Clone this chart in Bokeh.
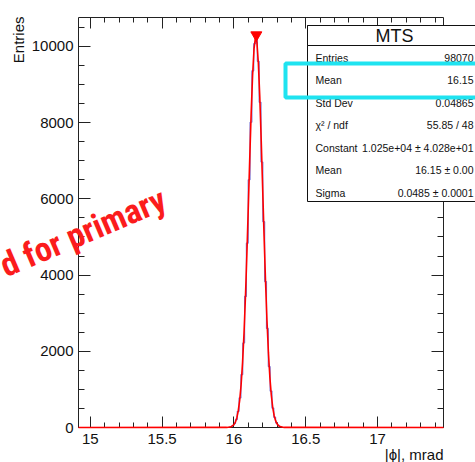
import math
from bokeh.plotting import figure
from bokeh.models import Range1d, LinearAxis, FixedTicker, CustomJSTickFormatter
from bokeh.core.properties import value
from bokeh.embed import file_html
from bokeh.resources import INLINE

# ---------------- data ----------------
x_min, x_max = 14.918, 17.459
y_max = 10760
n_bins = 200
first_bin = 83
counts = [15, 44, 101, 203, 425, 776, 1389, 2218, 3441, 4838, 6502, 8011, 9361, 10074,
          10238, 9610, 8533, 6968, 5402, 3829, 2601, 1598, 957, 509, 268, 119, 58, 21]

fit_x = [14.918, 15.95, 15.98, 16.00, 16.01, 16.02, 16.03, 16.04, 16.05, 16.06, 16.07,
         16.08, 16.09, 16.10, 16.11, 16.12, 16.13, 16.14, 16.15, 16.16, 16.17, 16.18,
         16.19, 16.20, 16.21, 16.22, 16.23, 16.24, 16.25, 16.26, 16.27, 16.28, 16.29,
         16.30, 16.31, 16.32, 16.35, 17.459]
fit_y = [0, 2, 19, 76, 141, 252, 434, 713, 1123, 1696, 2455, 3405, 4529, 5770, 7045,
         8244, 9246, 9941, 10241, 10112, 9567, 8677, 7539, 6279, 5013, 3836, 2813, 1977,
         1330, 859, 531, 315, 179, 97, 51, 25, 2, 0]

peak_x = [16.156]
peak_y = [10300]

x_major = [15, 15.5, 16, 16.5, 17]
x_minor = [15.0, 15.1, 15.2, 15.3, 15.4, 15.5, 15.6, 15.7, 15.8, 15.9, 16.0, 16.1, 16.2,
           16.3, 16.4, 16.5, 16.6, 16.7, 16.8, 16.9, 17.0, 17.1, 17.2, 17.3, 17.4]
y_major = [0, 2000, 4000, 6000, 8000, 10000]
y_minor = [0, 500, 1000, 1500, 2000, 2500, 3000, 3500, 4000, 4500, 5000, 5500, 6000,
           6500, 7000, 7500, 8000, 8500, 9000, 9500, 10000, 10500]

stats_title = "MTS"
stats_labels = ["Entries", "Mean", "Std Dev", "χ² / ndf", "Constant", "Mean", "Sigma"]
stats_values = ["98070", "16.15", "0.04865", "55.85 / 48", "1.025e+04 ± 4.028e+01",
                "16.15 ± 0.00", "0.0485 ± 0.0001"]

x_title = "|ϕ|, mrad"
y_title = "Entries"
note_text = "d for primary"

# ---------------- layout constants ----------------
W, H = 475, 462
FL, FR, FT, FB = 78, 443, 17, 427   # frame edges in canvas px


def X(cx):
    """canvas pixel column -> data x"""
    return x_min + (cx - FL) * (x_max - x_min) / (FR - FL)


def Y(cy):
    """canvas pixel row -> data y"""
    return (FB - cy) * y_max / (FB - FT)


FONT = "Liberation Sans"
INK = "#111111"

p = figure(width=W, height=H, x_range=Range1d(x_min, x_max), y_range=Range1d(0, y_max),
           output_backend="svg", toolbar_location=None, title=None,
           x_axis_location=None, y_axis_location=None,
           min_border_left=FL, min_border_right=W - FR, min_border_top=FT,
           min_border_bottom=H - FB, outline_line_color=None,
           background_fill_color="white", border_fill_color="white")
p.xgrid.visible = False
p.ygrid.visible = False

num_fmt = CustomJSTickFormatter(code="return tick.toString();")
blank_fmt = CustomJSTickFormatter(code="return '';")


def make_axis(ticks, minor, fmt, tick_len, minor_len, standoff):
    return LinearAxis(ticker=FixedTicker(ticks=ticks, minor_ticks=minor), formatter=fmt,
                      major_tick_in=tick_len, major_tick_out=0,
                      minor_tick_in=minor_len, minor_tick_out=0,
                      major_label_standoff=standoff,
                      major_label_text_font=FONT, major_label_text_font_size="15px",
                      major_label_text_color=INK,
                      axis_line_color="#222222", major_tick_line_color="#222222",
                      minor_tick_line_color="#222222", axis_line_width=1)


p.add_layout(make_axis(x_major, x_minor, num_fmt, 11, 5, 6), "below")
p.add_layout(make_axis(x_major, x_minor, blank_fmt, 11, 5, 0), "above")
p.add_layout(make_axis(y_major, y_minor, num_fmt, 12, 6, 5), "left")
p.add_layout(make_axis(y_major, y_minor, blank_fmt, 12, 6, 0), "right")

# histogram step outline
bw = (x_max - x_min) / n_bins
hx = [x_min]
hy = [0]
for i, c in enumerate(counts):
    lo = x_min + (first_bin + i) * bw
    hx += [lo, lo, lo + bw]
    hy += [hy[-1], c, c]
hx += [hx[-1], x_max]
hy += [0, 0]
p.line(hx, hy, line_color="#7a7ad8", line_width=1.2)

# fit curve
p.line(fit_x, fit_y, line_color="#ff0000", line_width=1.6, level="annotation")

# peak marker
p.scatter(peak_x, peak_y, marker="inverted_triangle", size=11,
          fill_color="#ff0000", line_color="#ff0000")

# axis titles (glyphs outside the frame)
p.text(x=[X(18)], y=[Y(16)], text=[y_title], angle=math.pi / 2, text_align="right",
       text_baseline="middle", text_font=value(FONT), text_font_size="15px",
       text_color=INK, level="overlay")
p.text(x=[X(443)], y=[Y(454)], text=[x_title], text_align="right",
       text_baseline="middle", text_font=value(FONT), text_font_size="15px",
       text_color=INK, level="overlay")

# red slide annotation
p.text(x=[X(1)], y=[Y(266)], text=[note_text], angle=math.radians(23),
       text_align="left", text_baseline="alphabetic",
       text_font=value("Roboto Condensed, Roboto, Liberation Sans, sans-serif"),
       text_font_style="bold",
       text_font_size="34px", text_color="#fb1c1c", level="overlay")

# stats box
box_l, box_r, box_t, box_b, sep = 307, 484, 25, 201, 45
p.quad(left=[X(box_l), X(box_l)], right=[X(box_r), X(box_r)],
       top=[Y(box_t), Y(box_t)], bottom=[Y(box_b), Y(sep)],
       fill_color="white", fill_alpha=1.0, line_color=INK, line_width=1,
       level="annotation")
p.text(x=[X(394)], y=[Y(35)], text=[stats_title], text_align="center",
       text_baseline="middle", text_font=value(FONT), text_font_size="18px",
       text_color=INK, level="annotation")
row_y = [57, 79.5, 102, 124.5, 147, 169.5, 192]
p.text(x=[X(315)] * len(row_y), y=[Y(r) for r in row_y], text=stats_labels,
       text_align="left", text_baseline="middle", text_font=value(FONT),
       text_font_size="10.5px", text_color=INK, level="annotation")
p.text(x=[X(473)] * len(row_y), y=[Y(r) for r in row_y], text=stats_values,
       text_align="right", text_baseline="middle", text_font=value(FONT),
       text_font_size="10.5px", text_color=INK, level="annotation")

# cyan highlight rectangle
p.quad(left=[X(285)], right=[X(495)], top=[Y(63)], bottom=[Y(97)],
       fill_color=None, line_color="#1fe3f0", line_width=4, level="overlay")

open("out.html", "w").write(file_html(p, INLINE))
